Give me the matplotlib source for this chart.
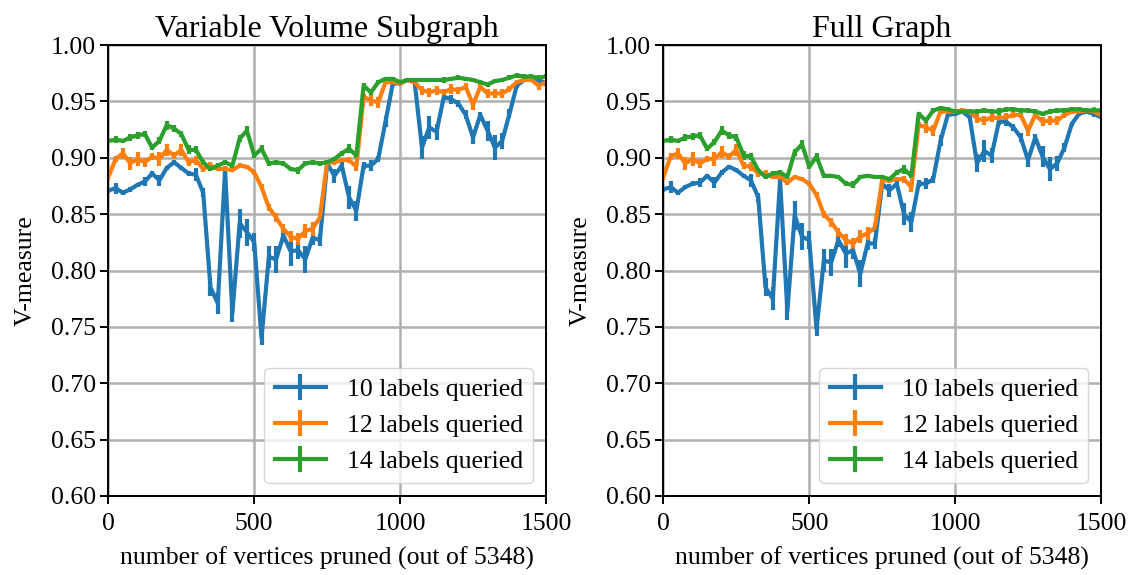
import matplotlib
matplotlib.use('Agg')
import matplotlib.pyplot as plt
import numpy as np

plt.rcParams['font.family'] = 'serif'
plt.rcParams['font.serif'] = ['Liberation Serif', 'DejaVu Serif']
plt.rcParams['font.size'] = 18.5

# pruning steps: 0, 25, ..., 1500
pruned = list(range(0, 1501, 25))

# --- Variable Volume Subgraph ---
sub_10 = [0.871, 0.873, 0.869, 0.872, 0.876, 0.879, 0.886, 0.880, 0.891, 0.896,
          0.891, 0.886, 0.885, 0.869, 0.785, 0.771, 0.889, 0.762, 0.842, 0.834,
          0.825, 0.740, 0.812, 0.810, 0.831, 0.817, 0.818, 0.810, 0.829, 0.827,
          0.895, 0.884, 0.893, 0.865, 0.853, 0.893, 0.893, 0.899, 0.932, 0.966,
          0.966, 0.969, 0.967, 0.909, 0.927, 0.923, 0.954, 0.952, 0.948, 0.938,
          0.918, 0.938, 0.924, 0.909, 0.915, 0.939, 0.964, 0.969, 0.970, 0.969,
          0.966]
sub_10_err = [0.002, 0.005, 0.002, 0.002, 0.002, 0.004, 0.002, 0.005, 0.002, 0.002,
              0.002, 0.002, 0.006, 0.004, 0.008, 0.010, 0.003, 0.008, 0.013, 0.012,
              0.008, 0.006, 0.010, 0.012, 0.006, 0.013, 0.008, 0.012, 0.006, 0.005,
              0.003, 0.006, 0.003, 0.010, 0.009, 0.003, 0.005, 0.003, 0.005, 0.002,
              0.002, 0.002, 0.002, 0.010, 0.010, 0.007, 0.003, 0.004, 0.003, 0.004,
              0.006, 0.003, 0.009, 0.011, 0.007, 0.004, 0.002, 0.002, 0.002, 0.003,
              0.002]
sub_12 = [0.883, 0.899, 0.904, 0.895, 0.899, 0.896, 0.901, 0.899, 0.907, 0.902,
          0.907, 0.896, 0.898, 0.890, 0.893, 0.890, 0.890, 0.889, 0.893, 0.892,
          0.887, 0.874, 0.856, 0.847, 0.837, 0.830, 0.828, 0.835, 0.837, 0.847,
          0.896, 0.896, 0.898, 0.898, 0.892, 0.954, 0.951, 0.949, 0.967, 0.967,
          0.966, 0.969, 0.967, 0.960, 0.958, 0.960, 0.958, 0.961, 0.960, 0.963,
          0.947, 0.963, 0.957, 0.957, 0.957, 0.961, 0.967, 0.969, 0.969, 0.964,
          0.967]
sub_12_err = [0.003, 0.003, 0.005, 0.006, 0.006, 0.004, 0.003, 0.006, 0.005, 0.003,
              0.005, 0.003, 0.004, 0.003, 0.003, 0.002, 0.003, 0.002, 0.002, 0.002,
              0.002, 0.003, 0.003, 0.004, 0.004, 0.005, 0.005, 0.006, 0.006, 0.004,
              0.002, 0.002, 0.002, 0.003, 0.004, 0.003, 0.005, 0.005, 0.002, 0.002,
              0.002, 0.002, 0.002, 0.004, 0.004, 0.004, 0.003, 0.004, 0.003, 0.003,
              0.005, 0.003, 0.004, 0.004, 0.004, 0.003, 0.002, 0.002, 0.002, 0.004,
              0.002]
sub_14 = [0.915, 0.916, 0.915, 0.918, 0.920, 0.921, 0.909, 0.915, 0.929, 0.926,
          0.921, 0.907, 0.907, 0.896, 0.890, 0.893, 0.896, 0.893, 0.917, 0.924,
          0.902, 0.908, 0.895, 0.896, 0.895, 0.890, 0.889, 0.895, 0.896, 0.895,
          0.896, 0.899, 0.904, 0.908, 0.902, 0.964, 0.958, 0.967, 0.970, 0.970,
          0.967, 0.969, 0.969, 0.969, 0.969, 0.969, 0.969, 0.970, 0.971, 0.970,
          0.969, 0.967, 0.965, 0.968, 0.969, 0.971, 0.973, 0.972, 0.972, 0.971,
          0.972]
sub_14_err = [0.002, 0.003, 0.002, 0.003, 0.003, 0.003, 0.002, 0.003, 0.004, 0.003,
              0.003, 0.004, 0.003, 0.002, 0.002, 0.002, 0.002, 0.002, 0.003, 0.004,
              0.002, 0.003, 0.002, 0.002, 0.002, 0.002, 0.003, 0.002, 0.002, 0.002,
              0.002, 0.002, 0.002, 0.004, 0.002, 0.002, 0.002, 0.002, 0.002, 0.002,
              0.002, 0.002, 0.002, 0.002, 0.002, 0.002, 0.003, 0.002, 0.002, 0.002,
              0.002, 0.002, 0.002, 0.002, 0.002, 0.002, 0.002, 0.002, 0.002, 0.002,
              0.002]

# --- Full Graph ---
full_10 = [0.872, 0.874, 0.869, 0.874, 0.877, 0.878, 0.884, 0.878, 0.887, 0.892,
           0.889, 0.884, 0.880, 0.865, 0.785, 0.775, 0.880, 0.764, 0.849, 0.830,
           0.827, 0.748, 0.809, 0.807, 0.827, 0.815, 0.818, 0.797, 0.824, 0.824,
           0.877, 0.871, 0.877, 0.850, 0.843, 0.877, 0.877, 0.881, 0.915, 0.938,
           0.939, 0.941, 0.936, 0.895, 0.906, 0.902, 0.932, 0.932, 0.927, 0.918,
           0.898, 0.918, 0.901, 0.890, 0.895, 0.909, 0.930, 0.939, 0.941, 0.939,
           0.936]
full_10_err = [0.002, 0.005, 0.002, 0.002, 0.002, 0.004, 0.002, 0.005, 0.002, 0.002,
               0.002, 0.002, 0.006, 0.004, 0.008, 0.010, 0.003, 0.008, 0.013, 0.012,
               0.008, 0.006, 0.010, 0.012, 0.006, 0.013, 0.008, 0.012, 0.006, 0.005,
               0.003, 0.006, 0.003, 0.010, 0.009, 0.003, 0.005, 0.003, 0.005, 0.002,
               0.002, 0.002, 0.002, 0.008, 0.010, 0.007, 0.003, 0.004, 0.003, 0.004,
               0.006, 0.003, 0.009, 0.011, 0.007, 0.004, 0.002, 0.002, 0.002, 0.003,
               0.002]
full_12 = [0.883, 0.901, 0.904, 0.895, 0.899, 0.895, 0.899, 0.899, 0.905, 0.901,
           0.907, 0.893, 0.892, 0.886, 0.886, 0.883, 0.883, 0.878, 0.883, 0.881,
           0.877, 0.867, 0.850, 0.843, 0.834, 0.827, 0.824, 0.830, 0.833, 0.838,
           0.880, 0.880, 0.881, 0.881, 0.874, 0.929, 0.927, 0.924, 0.941, 0.941,
           0.941, 0.942, 0.941, 0.935, 0.933, 0.936, 0.935, 0.936, 0.938, 0.938,
           0.924, 0.938, 0.932, 0.933, 0.933, 0.938, 0.941, 0.941, 0.942, 0.941,
           0.938]
full_12_err = [0.003, 0.003, 0.005, 0.006, 0.006, 0.004, 0.003, 0.006, 0.005, 0.003,
               0.005, 0.003, 0.004, 0.003, 0.003, 0.002, 0.003, 0.002, 0.002, 0.002,
               0.002, 0.003, 0.003, 0.004, 0.004, 0.005, 0.005, 0.006, 0.006, 0.004,
               0.002, 0.002, 0.002, 0.003, 0.004, 0.003, 0.005, 0.005, 0.002, 0.002,
               0.002, 0.002, 0.002, 0.004, 0.004, 0.004, 0.003, 0.004, 0.003, 0.003,
               0.005, 0.003, 0.004, 0.004, 0.004, 0.003, 0.002, 0.002, 0.002, 0.004,
               0.002]
full_14 = [0.915, 0.916, 0.915, 0.918, 0.919, 0.920, 0.908, 0.914, 0.924, 0.920,
           0.918, 0.902, 0.901, 0.889, 0.883, 0.886, 0.887, 0.883, 0.905, 0.912,
           0.892, 0.901, 0.884, 0.884, 0.883, 0.877, 0.876, 0.883, 0.884, 0.883,
           0.883, 0.881, 0.887, 0.890, 0.884, 0.939, 0.933, 0.942, 0.944, 0.943,
           0.941, 0.941, 0.941, 0.941, 0.942, 0.941, 0.941, 0.943, 0.943, 0.942,
           0.942, 0.941, 0.939, 0.941, 0.942, 0.942, 0.943, 0.943, 0.942, 0.942,
           0.942]
full_14_err = [0.002, 0.003, 0.002, 0.003, 0.003, 0.003, 0.002, 0.003, 0.004, 0.003,
               0.003, 0.004, 0.003, 0.002, 0.002, 0.002, 0.002, 0.002, 0.003, 0.004,
               0.002, 0.003, 0.002, 0.002, 0.002, 0.002, 0.003, 0.002, 0.002, 0.002,
               0.002, 0.002, 0.002, 0.004, 0.002, 0.002, 0.002, 0.002, 0.002, 0.002,
               0.002, 0.002, 0.002, 0.002, 0.002, 0.002, 0.003, 0.002, 0.002, 0.002,
               0.002, 0.002, 0.002, 0.002, 0.002, 0.002, 0.002, 0.002, 0.002, 0.002,
               0.002]

labels = ['10 labels queried', '12 labels queried', '14 labels queried']
titles = ['Variable Volume Subgraph', 'Full Graph']
panels = [
    [(sub_10, sub_10_err), (sub_12, sub_12_err), (sub_14, sub_14_err)],
    [(full_10, full_10_err), (full_12, full_12_err), (full_14, full_14_err)],
]


def draw_panel(ax, series, title):
    """Draws one panel of V-measure curves with error bars"""

    for (values, errors), label in zip(series, labels):
        ax.errorbar(pruned, values, yerr=errors, label=label, linewidth=3,
                    elinewidth=3, capsize=0)

    ax.set_xlim(0, 1500)
    ax.set_ylim(0.60, 1.00)
    ax.set_xticks([0, 500, 1000, 1500])
    ax.set_yticks(np.arange(0.60, 1.001, 0.05))
    ax.yaxis.set_major_formatter(matplotlib.ticker.FormatStrFormatter('%.2f'))
    ax.grid(True, color='#b0b0b0', linewidth=1.8)
    ax.set_axisbelow(True)
    ax.tick_params(length=5.5, width=1.4)
    ax.tick_params(axis='x', pad=7)
    for spine in ax.spines.values():
        spine.set_linewidth(1.4)

    ax.set_title(title, fontsize=23)
    ax.set_xlabel('number of vertices pruned (out of 5348)', labelpad=8)
    ax.set_ylabel('V-measure', labelpad=10)
    ax.legend(loc='lower right', fontsize=18.5)


fig = plt.figure(figsize=(11.35, 5.75), dpi=100)
ax_left = fig.add_axes([0.0955, 0.1374, 0.3855, 0.7843])
ax_right = fig.add_axes([0.5845, 0.1374, 0.3855, 0.7843])

draw_panel(ax_left, panels[0], titles[0])
draw_panel(ax_right, panels[1], titles[1])

fig.savefig('out.png', dpi=100)
